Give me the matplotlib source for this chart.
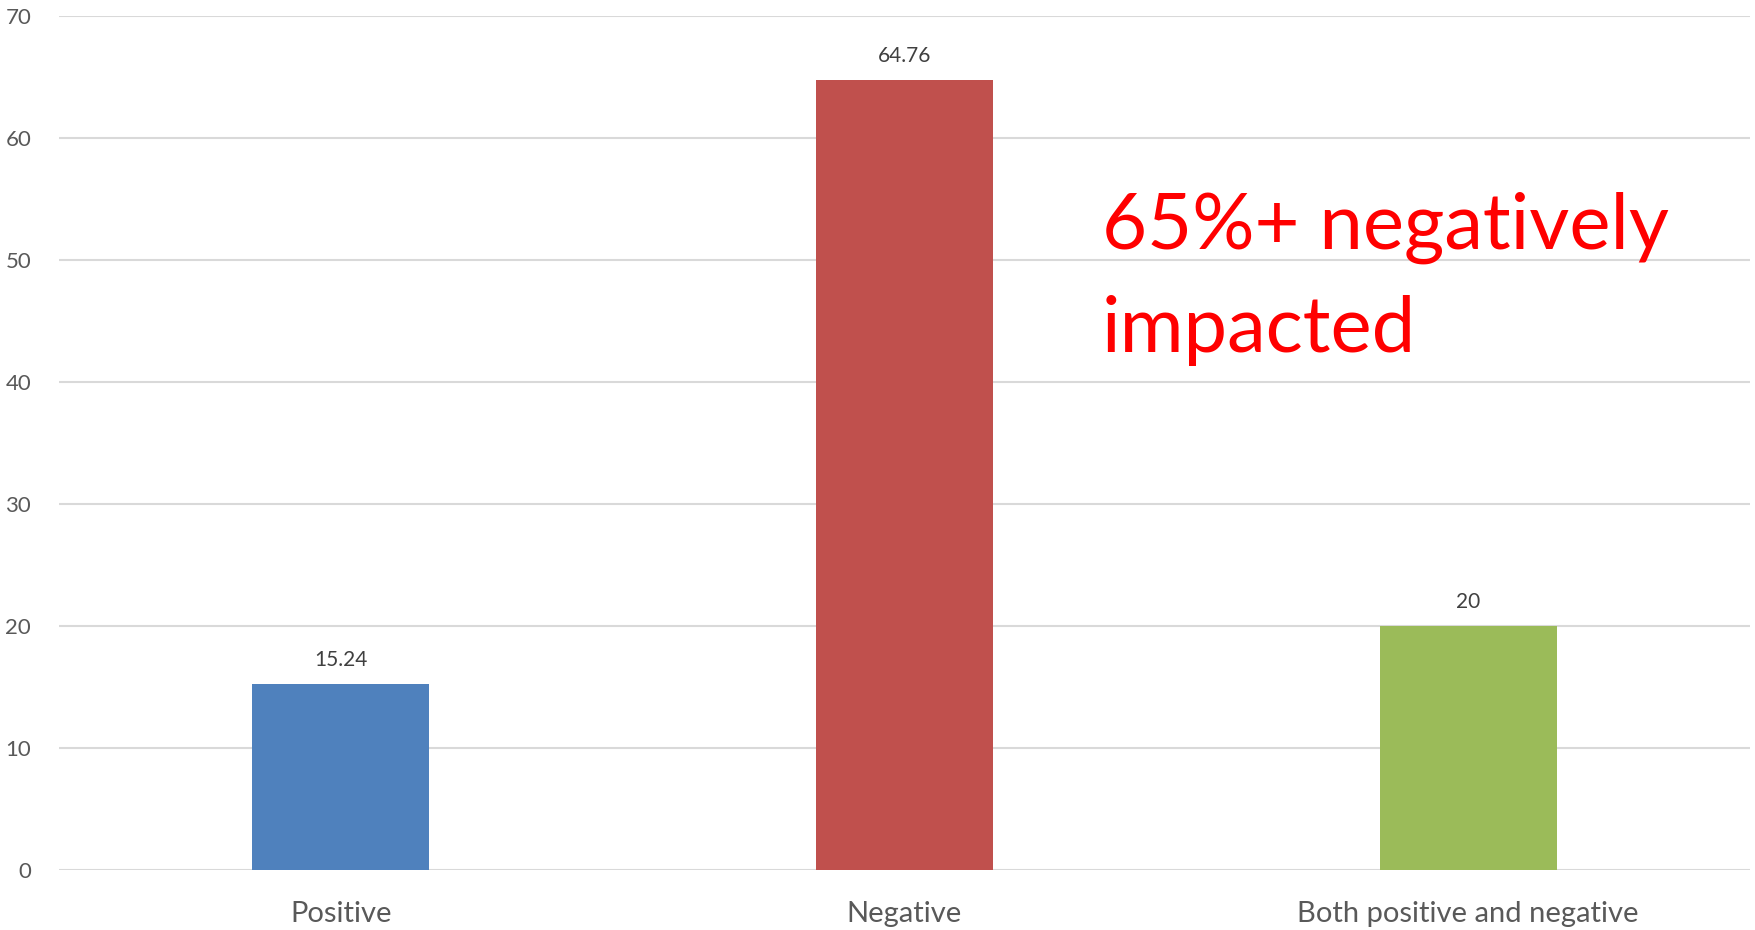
import matplotlib.pyplot as plt

categories = ['Positive', 'Negative', 'Both positive and negative']
values = [15.24, 64.76, 20]
value_labels = ['15.24', '64.76', '20']
colors = ['#4F81BD', '#C0504D', '#9BBB59']
y_ticks = [0, 10, 20, 30, 40, 50, 60, 70]
note_lines = ['65%+ negatively', 'impacted']

plt.rcParams['font.family'] = ['Lato', 'DejaVu Sans']

fig = plt.figure(figsize=(17.56, 9.30), dpi=100)
ax = fig.add_axes([59 / 1756, 1 - 870 / 930, (1750 - 59) / 1756, (870 - 16) / 930])

x = range(len(categories))
bars = ax.bar(x, values, width=0.314, color=colors, linewidth=0, zorder=2)

for b, lab in zip(bars, value_labels):
    ax.annotate(lab, (b.get_x() + b.get_width() / 2, b.get_height()),
                xytext=(0, 10), textcoords='offset points',
                ha='center', va='bottom', fontsize=15, color='#404040')

ax.set_xlim(-0.5, len(categories) - 0.5)
ax.set_ylim(0, 70)
ax.set_yticks(y_ticks)
ax.set_xticks(list(x))
ax.set_xticklabels(categories, fontsize=21, color='#595959')
ax.tick_params(axis='y', labelsize=16, labelcolor='#595959', length=0, pad=20)
ax.tick_params(axis='x', length=0, pad=22)
ax.grid(axis='y', color='#D9D9D9', linewidth=1.5, zorder=0)
for s in ax.spines.values():
    s.set_visible(False)

# red callout, one line per text so the baselines sit where wanted
for line, y in zip(note_lines, [50.9, 42.45]):
    ax.text(1.35, y, line, fontsize=56, color='#FF0000', ha='left', va='baseline')

fig.savefig('out.png', dpi=100, facecolor='white')
